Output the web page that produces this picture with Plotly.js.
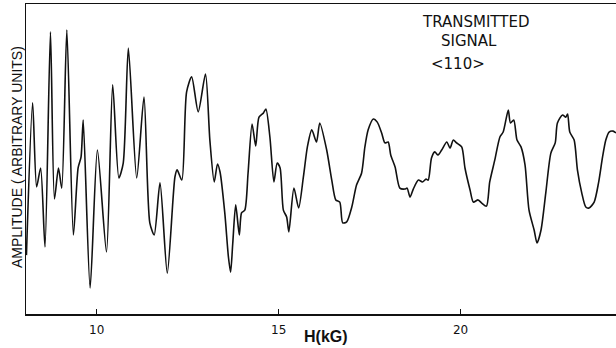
<!DOCTYPE html>
<html>
<head>
<meta charset="utf-8">
<script src="https://cdn.plot.ly/plotly-3.0.1.min.js"></script>
<style>
  html, body { margin: 0; padding: 0; background: #ffffff; }
  #chart { width: 616px; height: 348px; }
</style>
</head>
<body>
<div id="chart"></div>
<script>
// Magnetic field sweep, kG
const fieldKG = [
  8.07, 8.24, 8.35, 8.46, 8.58, 8.73, 8.84, 8.95, 9.04, 9.18,
  9.36, 9.49, 9.57, 9.63, 9.82, 10.02, 10.27, 10.44, 10.61, 10.73,
  10.87, 11.10, 11.30, 11.46, 11.58, 11.74, 11.94, 12.15, 12.21, 12.34,
  12.47, 12.61, 12.79, 12.99, 13.11, 13.23, 13.32, 13.39, 13.52, 13.62,
  13.68, 13.74, 13.82, 13.92, 13.98, 14.07, 14.16, 14.27, 14.37, 14.46,
  14.58, 14.65, 14.76, 14.87, 14.96, 15.04, 15.13, 15.22, 15.28, 15.42,
  15.55, 15.68, 15.79, 15.91, 16.04, 16.13, 16.32, 16.46, 16.57, 16.68,
  16.76, 16.87, 17.01, 17.14, 17.28, 17.37, 17.46, 17.60, 17.71, 17.83,
  17.92, 18.01, 18.08, 18.20, 18.33, 18.47, 18.53, 18.61, 18.70, 18.84,
  18.95, 19.05, 19.11, 19.20, 19.29, 19.38, 19.48, 19.62, 19.71, 19.80,
  19.89, 20.03, 20.12, 20.26, 20.35, 20.48, 20.58, 20.71, 20.80, 20.94,
  21.08, 21.17, 21.31, 21.37, 21.46, 21.55, 21.66, 21.77, 21.88, 22.02,
  22.10, 22.21, 22.34, 22.48, 22.60, 22.66, 22.80, 22.89, 22.94, 23.00,
  23.12, 23.21, 23.33, 23.44, 23.53, 23.67, 23.79, 23.90, 23.99, 24.08,
  24.19, 24.27
];

// Transmitted signal amplitude, arbitrary units (0 = lower frame, 100 = upper frame)
const amplitude = [
  19.0, 68.1, 41.0, 47.1, 21.6, 91.0, 37.1, 47.1, 40.6, 91.6,
  25.5, 47.1, 50.6, 62.6, 8.4, 52.9, 20.0, 73.9, 43.9, 48.7,
  85.8, 43.9, 70.0, 29.4, 25.5, 42.3, 13.2, 44.2, 46.5, 43.2,
  71.6, 76.5, 65.2, 77.4, 56.1, 42.6, 48.4, 45.8, 32.6, 18.4,
  13.5, 22.9, 35.2, 25.5, 32.6, 33.5, 45.5, 61.3, 54.2, 63.5,
  64.8, 66.1, 57.1, 42.6, 48.7, 47.1, 33.5, 31.3, 26.5, 40.6,
  34.2, 44.2, 53.9, 59.4, 55.5, 61.6, 52.9, 43.2, 36.8, 36.1,
  29.4, 29.7, 34.5, 41.6, 45.5, 53.9, 59.4, 62.9, 61.9, 58.4,
  55.2, 55.5, 51.3, 47.4, 40.6, 40.3, 40.6, 37.7, 40.3, 43.2,
  42.6, 43.5, 43.2, 50.3, 52.3, 51.3, 52.9, 55.5, 53.5, 56.1,
  55.2, 53.9, 47.1, 40.0, 36.1, 36.8, 35.8, 34.8, 42.6, 49.7,
  57.1, 58.7, 65.8, 61.6, 62.6, 56.1, 53.9, 48.1, 33.5, 27.1,
  22.9, 27.1, 39.0, 51.9, 55.2, 61.6, 64.2, 63.5, 64.5, 58.7,
  56.1, 46.5, 39.0, 34.5, 34.2, 36.1, 42.3, 50.6, 56.1, 58.7,
  59.0, 58.4
];

// Axis tick positions and their printed labels
const tickValues = [10, 15, 20];
const tickLabels = ['10', '15', '20'];

const xTitle = 'H(kG)';
const yTitle = 'AMPLITUDE ( ARBITRARY UNITS)';
const noteLines = ['TRANSMITTED', 'SIGNAL', '<110>'];

const ink = '#111111';
const font = 'Liberation Sans, Arial, sans-serif';
const noteFont = 'DejaVu Sans, Liberation Sans, sans-serif';

const trace = {
  x: fieldKG,
  y: amplitude,
  type: 'scatter',
  mode: 'lines',
  line: { color: ink, width: 1.6, shape: 'spline', smoothing: 0.7 },
  hoverinfo: 'skip'
};

const escapeText = s => s.replace(/</g, '&lt;').replace(/>/g, '&gt;');

const layout = {
  width: 616,
  height: 348,
  margin: { l: 26, r: 0, t: 4, b: 34 },
  paper_bgcolor: '#ffffff',
  plot_bgcolor: '#ffffff',
  showlegend: false,
  xaxis: {
    range: [8.058, 24.27],
    tickvals: tickValues,
    ticktext: tickLabels,
    ticks: 'inside',
    ticklen: 5,
    tickwidth: 1.2,
    tickcolor: ink,
    showline: true,
    mirror: true,
    linecolor: ink,
    linewidth: 1.5,
    showgrid: false,
    zeroline: false,
    ticklabelstandoff: 4,
    tickfont: { family: noteFont, size: 12, color: ink }
  },
  yaxis: {
    range: [0, 100],
    showticklabels: false,
    ticks: '',
    showline: true,
    linecolor: ink,
    linewidth: 1.5,
    showgrid: false,
    zeroline: false
  },
  annotations: [
    {
      text: '<b>' + xTitle + '</b>', xref: 'x', yref: 'paper', x: 16.3, y: -0.074,
      showarrow: false, xanchor: 'center', yanchor: 'middle',
      font: { family: font, size: 16, color: ink }
    },
    {
      text: yTitle, xref: 'paper', yref: 'paper', x: -0.0153, y: 0.506,
      textangle: -90, showarrow: false, xanchor: 'center', yanchor: 'middle',
      font: { family: font, size: 14, color: ink }
    },
    {
      text: noteLines[0], xref: 'x', yref: 'paper', x: 20.42, y: (314 - 22) / 310,
      showarrow: false, xanchor: 'center', yanchor: 'middle',
      font: { family: noteFont, size: 15, color: ink }
    },
    {
      text: noteLines[1], xref: 'x', yref: 'paper', x: 20.23, y: (314 - 41) / 310,
      showarrow: false, xanchor: 'center', yanchor: 'middle',
      font: { family: noteFont, size: 15, color: ink }
    },
    {
      text: escapeText(noteLines[2]), xref: 'x', yref: 'paper', x: 19.92, y: (314 - 64) / 310,
      showarrow: false, xanchor: 'center', yanchor: 'middle',
      font: { family: noteFont, size: 15, color: ink }
    }
  ]
};

Plotly.newPlot('chart', [trace], layout, { staticPlot: true, displayModeBar: false });
</script>
</body>
</html>
